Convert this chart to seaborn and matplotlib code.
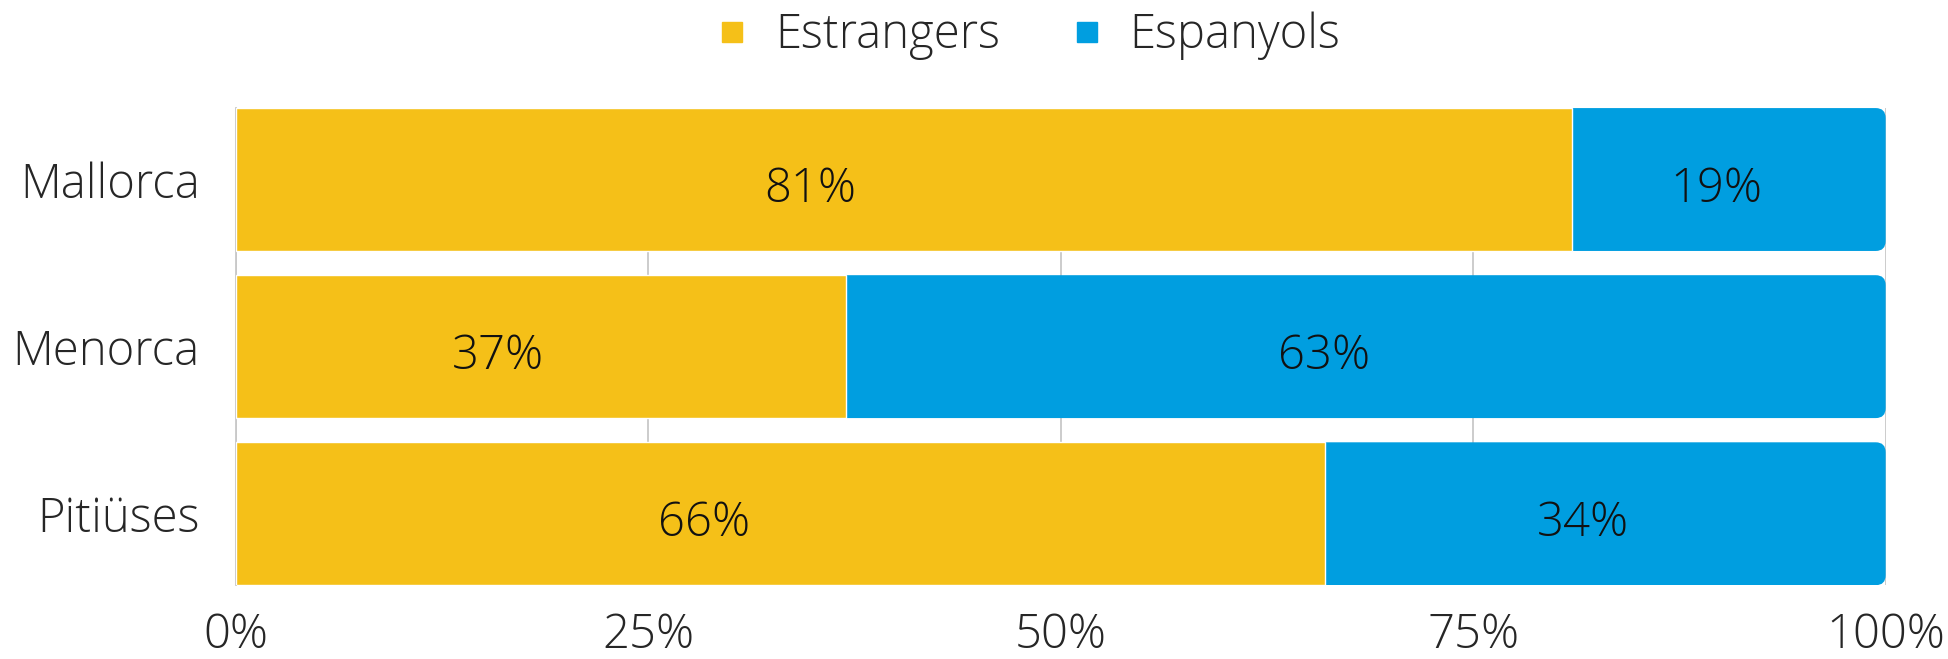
import matplotlib
matplotlib.use("Agg")
import matplotlib.pyplot as plt
from matplotlib.lines import Line2D
from matplotlib.patches import FancyBboxPatch
import pandas as pd
import seaborn as sns

islands = ["Mallorca", "Menorca", "Pitiüses"]
estrangers = [81, 37, 66]
espanyols = [19, 63, 34]
series_names = ["Estrangers", "Espanyols"]
xticks = [0, 25, 50, 75, 100]

YELLOW = "#F5C018"
BLUE = "#009EE0"

sns.set_style("white")
plt.rcParams["font.family"] = ["Open Sans", "DejaVu Sans"]
plt.rcParams["font.weight"] = "light"

df = pd.DataFrame({"island": islands, "estr": estrangers, "esp": espanyols})
df["total"] = df["estr"] + df["esp"]

fig = plt.figure(figsize=(19.48, 6.59), dpi=100)
ax = fig.add_axes([0.121, 0.112, 0.847, 0.724])

sns.barplot(data=df, x="total", y="island", color=BLUE, width=0.855,
            saturation=1, ax=ax, zorder=2)
# round the right-hand end of the blue bars
for p in list(ax.patches):
    x0, y0 = p.get_x(), p.get_y()
    w, h = p.get_width(), p.get_height()
    p.remove()
    ax.add_patch(FancyBboxPatch((x0, y0), w, h,
                                boxstyle="round,pad=0,rounding_size=0.6",
                                mutation_aspect=0.1, facecolor=BLUE,
                                edgecolor="none", zorder=2))
sns.barplot(data=df, x="estr", y="island", color=YELLOW, width=0.855,
            saturation=1, ax=ax, zorder=3)

# value labels (slightly left of segment centre, as in reference)
for i, row in df.iterrows():
    ax.text(row["estr"] * 0.43, i + 0.06, f"{row['estr']}%", ha="center", va="center",
            fontsize=34, fontweight="light", color="#111111", zorder=5)
    ax.text(row["estr"] + row["esp"] * 0.46, i + 0.06, f"{row['esp']}%", ha="center",
            va="center", fontsize=34, fontweight="light", color="#111111", zorder=5)

ax.set_xlim(0, 100)
ax.set_ylim(2.4275, -0.4275)
ax.set_xticks(xticks)
ax.set_xticklabels([f"{t}%" for t in xticks])
ax.xaxis.grid(True, color="#c8c8c8", linewidth=1.3, zorder=0)
ax.set_axisbelow(True)
for s in ["top", "right", "bottom"]:
    ax.spines[s].set_visible(False)
ax.spines["left"].set_color("#c8c8c8")
ax.spines["left"].set_linewidth(1.3)
ax.tick_params(axis="x", length=0, pad=19, labelsize=34)
ax.tick_params(axis="y", length=0, pad=26, labelsize=34)
for lab in ax.get_xticklabels() + ax.get_yticklabels():
    lab.set_fontweight("light")
ax.set_xlabel("")
ax.set_ylabel("")

handles = [Line2D([], [], marker="s", linestyle="", markersize=15, color=c)
           for c in [YELLOW, BLUE]]
leg = fig.legend(handles, series_names, loc="center", bbox_to_anchor=(0.526, 0.945),
                 ncol=2, frameon=False, fontsize=34, handletextpad=0.4,
                 columnspacing=1.35, handlelength=1.0)
for t in leg.get_texts():
    t.set_fontweight("light")

fig.savefig("out.png", dpi=100)
